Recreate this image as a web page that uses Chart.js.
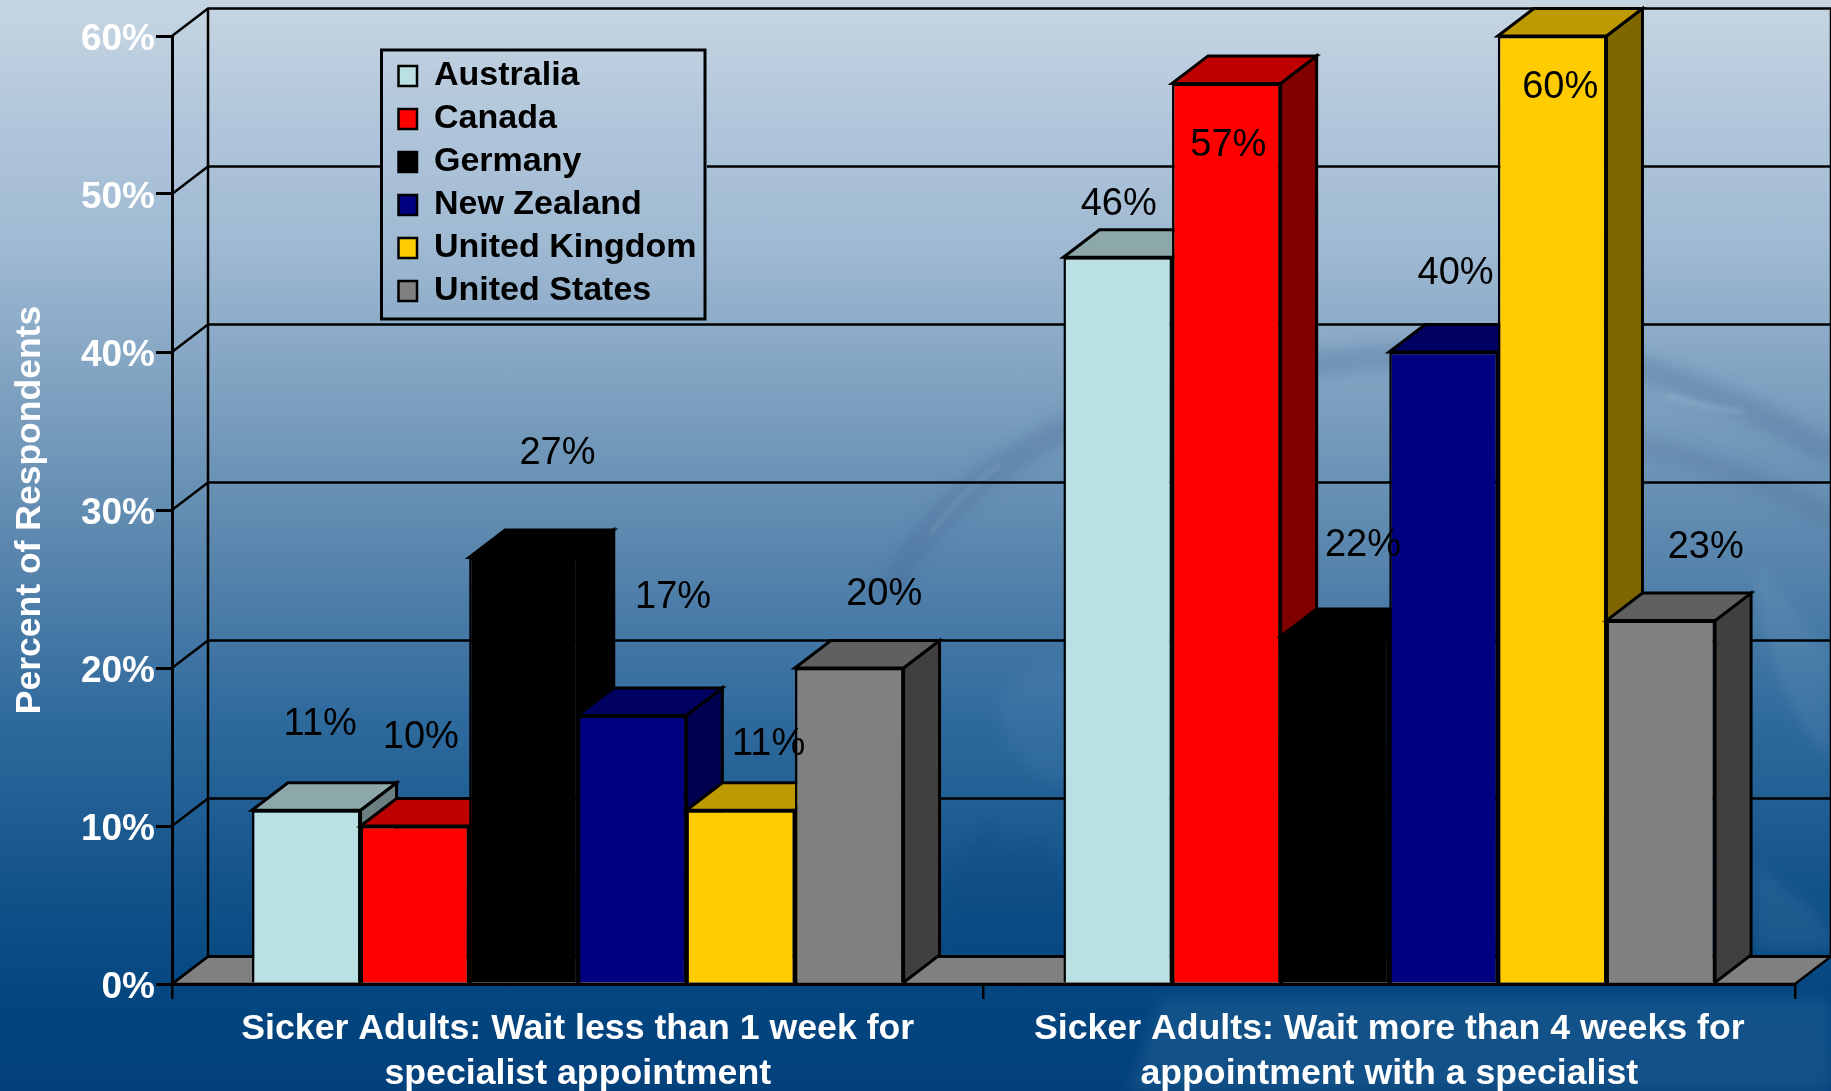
<!DOCTYPE html>
<html>
<head>
<meta charset="utf-8">
<title>Sicker adults: specialist waits</title>
<script src="https://cdn.jsdelivr.net/npm/chart.js@4"></script>
<style>
html,body{margin:0;padding:0;width:1831px;height:1091px;overflow:hidden;background:#04427d}
#bg{position:absolute;left:0;top:0}
canvas#c{position:absolute;left:0;top:0}
</style>
</head>
<body>
<svg id="bg" width="1831" height="1091" xmlns="http://www.w3.org/2000/svg">
<defs>
<linearGradient id="g" x1="0" y1="0" x2="0" y2="1">
<stop offset="0" stop-color="#c6d5e2"/>
<stop offset=".12" stop-color="#b0c5da"/>
<stop offset=".22" stop-color="#a0bad3"/>
<stop offset=".36" stop-color="#7ea1c0"/>
<stop offset=".5" stop-color="#5b87ae"/>
<stop offset=".66" stop-color="#2f6a9d"/>
<stop offset=".82" stop-color="#115289"/>
<stop offset=".92" stop-color="#03457f"/>
<stop offset="1" stop-color="#03417b"/>
</linearGradient>
<filter id="b"><feGaussianBlur stdDeviation="7"/></filter>
<filter id="s"><feGaussianBlur stdDeviation="2.5"/></filter>
</defs>
<rect width="1831" height="1091" fill="url(#g)"/>
<g filter="url(#b)" fill="none">
<path d="M885 600 C930 500 1030 440 1110 410 C1300 345 1560 340 1660 375 C1730 400 1790 425 1831 455" stroke="#46658e" stroke-opacity=".28" stroke-width="26"/>
<path d="M1640 445 C1720 465 1790 490 1831 520" stroke="#46658e" stroke-opacity=".2" stroke-width="22"/>
<path d="M1000 700 C1030 660 1060 665 1075 670 L1075 780 C1040 790 1000 760 1000 700Z" fill="#9cc0d8" fill-opacity=".08"/>
<path d="M945 870 L990 825 L1010 855 L1040 840 L1075 885 L1075 960 L940 960Z" fill="#003a74" fill-opacity=".18"/>
<path d="M1755 560 C1790 600 1810 640 1831 650 L1831 760 C1790 720 1760 650 1755 560Z" fill="#9cc0d8" fill-opacity=".12"/>
<path d="M1755 860 C1780 890 1810 900 1831 930 L1831 950 L1755 950Z" fill="#9cc0d8" fill-opacity=".10"/>
<path d="M1160 1000 L1831 1000 L1831 1091 L1130 1091Z" fill="#5f9cc4" fill-opacity=".16"/>
</g>
<g filter="url(#s)" fill="none" stroke="#cfe2ee" stroke-opacity=".2">
<path d="M930 535 C960 490 1000 465 1000 465" stroke-width="3"/>
<path d="M1665 395 C1700 405 1720 410 1745 412" stroke-width="5"/>
</g>
</svg>
<canvas id="c" width="1831" height="1091"></canvas>
<script>
const categories = [
  ["Sicker Adults: Wait less than 1 week for", "specialist appointment"],
  ["Sicker Adults: Wait more than 4 weeks for", "appointment with a specialist"]
];
const seriesNames = ["Australia", "Canada", "Germany", "New Zealand", "United Kingdom", "United States"];
const australia = [11, 46];
const canada = [10, 57];
const germany = [27, 22];
const newZealand = [17, 40];
const unitedKingdom = [11, 60];
const unitedStates = [20, 23];
const yTicks = [0, 10, 20, 30, 40, 50, 60];
const yAxisTitle = "Percent of Respondents";

const seriesValues = [australia, canada, germany, newZealand, unitedKingdom, unitedStates];
const frontColors = ["#BAE0E3", "#FF0000", "#000000", "#000080", "#FFCC00", "#808080"];
const topColors   = ["#8CA8AA", "#BF0000", "#000000", "#000060", "#BF9900", "#606060"];
const sideColors  = ["#6C7F80", "#800000", "#000000", "#000050", "#806600", "#404040"];

// Hand placement of the value labels, relative to each bar's top-centre (px): [series][category]
const labelShiftX = [[14, 1], [6, 2], [34, 28], [41, 12], [28, 8], [35, 45]];
const labelShiftY = [[-86, -53], [-88, 62], [-104, -91], [-118, -78], [-66, 52], [-73, -73]];

const DEPTH_X = 36, DEPTH_Y = 27.5;
const LEGEND_BOX = {left: 381.5, top: 50, right: 705, bottom: 319};
const FONT = "'Liberation Sans', Arial, sans-serif";

function poly(ctx, pts, fill) {
  ctx.beginPath();
  pts.forEach((p, i) => i ? ctx.lineTo(p[0], p[1]) : ctx.moveTo(p[0], p[1]));
  ctx.closePath();
  if (fill) { ctx.fillStyle = fill; ctx.fill(); }
  ctx.stroke();
}

let painting = false;
const threeD = {
  id: 'threeD',
  afterLayout(chart) {
    // Park the library's legend inside the chart area, as in the reference.
    const l = chart.legend;
    l.left = 389.5; l.top = 50; l.right = l.left + 320; l.bottom = l.top + 268;
    l.width = 320; l.height = 268;
    l.adjustHitBoxes();
  },
  beforeDatasetsDraw(chart) {
    const ctx = chart.ctx, {x, y} = chart.scales;
    const L = x.left, R = x.right, base = y.bottom;
    ctx.save();
    ctx.strokeStyle = '#000'; ctx.lineWidth = 2.5; ctx.lineJoin = 'miter';
    // floor
    poly(ctx, [[L, base], [L + DEPTH_X, base - DEPTH_Y], [R + DEPTH_X, base - DEPTH_Y], [R, base]], '#808080');
    // back wall: grid lines, with a hole where the legend sits
    ctx.save();
    ctx.beginPath();
    ctx.rect(0, 0, chart.width, chart.height);
    ctx.rect(LEGEND_BOX.left, LEGEND_BOX.top, LEGEND_BOX.right - LEGEND_BOX.left + 2, LEGEND_BOX.bottom - LEGEND_BOX.top);
    ctx.clip('evenodd');
    yTicks.forEach(v => {
      const py = y.getPixelForValue(v);
      ctx.beginPath();
      ctx.moveTo(L, py);
      ctx.lineTo(L + DEPTH_X, py - DEPTH_Y);
      ctx.lineTo(R + DEPTH_X, py - DEPTH_Y);
      ctx.stroke();
    });
    ctx.restore();
    [L + DEPTH_X, R + DEPTH_X].forEach(px => {
      ctx.beginPath();
      ctx.moveTo(px, y.getPixelForValue(60) - DEPTH_Y);
      ctx.lineTo(px, base - DEPTH_Y);
      ctx.stroke();
    });
    // legend frame
    ctx.lineWidth = 3;
    ctx.strokeRect(LEGEND_BOX.left, LEGEND_BOX.top, LEGEND_BOX.right - LEGEND_BOX.left, LEGEND_BOX.bottom - LEGEND_BOX.top);
    ctx.restore();
  },
  beforeDatasetDraw() { return painting; },
  afterDatasetsDraw(chart) {
    const ctx = chart.ctx;
    painting = true;
    // left-to-right painter's order, so each bar covers its neighbour's side face
    seriesValues.forEach((_, i) => {
      const meta = chart.getDatasetMeta(i);
      ctx.save();
      ctx.strokeStyle = '#000'; ctx.lineWidth = 3; ctx.lineJoin = 'miter';
      meta.data.forEach(el => {
        const l = el.x - el.width / 2, r = el.x + el.width / 2, t = el.y, b = el.base;
        poly(ctx, [[r, t], [r + DEPTH_X, t - DEPTH_Y], [r + DEPTH_X, b - DEPTH_Y], [r, b]], sideColors[i]);
        poly(ctx, [[l, t], [l + DEPTH_X, t - DEPTH_Y], [r + DEPTH_X, t - DEPTH_Y], [r, t]], topColors[i]);
      });
      ctx.restore();
      meta.controller.draw();
    });
    painting = false;
    // value labels
    ctx.save();
    ctx.font = "38px " + FONT;
    ctx.fillStyle = '#000';
    ctx.textAlign = 'center';
    ctx.textBaseline = 'middle';
    seriesValues.forEach((vals, i) => {
      chart.getDatasetMeta(i).data.forEach((el, j) => {
        ctx.fillText(vals[j] + '%', el.x + labelShiftX[i][j], el.y + labelShiftY[i][j]);
      });
    });
    ctx.restore();
  }
};

new Chart(document.getElementById('c'), {
  type: 'bar',
  plugins: [threeD],
  data: {
    labels: categories,
    datasets: seriesNames.map((name, i) => ({
      label: name,
      data: seriesValues[i],
      backgroundColor: frontColors[i],
      borderColor: '#000',
      borderWidth: 2.5,
      categoryPercentage: 0.803,
      barPercentage: 1
    }))
  },
  options: {
    responsive: false,
    animation: false,
    layout: {autoPadding: false, padding: {left: 0, top: 36, right: 36, bottom: 0}},
    plugins: {
      tooltip: {enabled: false},
      legend: {
        position: 'chartArea',
        align: 'start',
        labels: {
          boxWidth: 18.5, boxHeight: 20, padding: 9,
          color: '#000',
          font: {family: FONT, size: 34, weight: 'bold'}
        }
      }
    },
    scales: {
      x: {
        afterFit(s) { s.height = 107; },
        grid: {drawOnChartArea: false, color: '#000', lineWidth: 2.5, tickLength: 15},
        border: {display: true, color: '#000', width: 3},
        ticks: {
          color: '#fff', maxRotation: 0, autoSkip: false, padding: 7,
          font: {family: FONT, size: 35.7, weight: 'bold', lineHeight: 1.27}
        }
      },
      y: {
        min: 0, max: 60,
        afterFit(s) { s.width = 172; },
        grid: {drawOnChartArea: false, color: '#000', lineWidth: 3, tickLength: 16},
        border: {display: true, color: '#000', width: 3},
        afterBuildTicks(s) { s.ticks = yTicks.map(v => ({value: v})); },
        ticks: {
          color: '#fff', padding: 1, labelOffset: 4,
          font: {family: FONT, size: 37, weight: 'bold'},
          callback: v => v + '%'
        },
        title: {
          display: true, text: yAxisTitle, color: '#fff',
          font: {family: FONT, size: 35.5, weight: 'bold'},
          padding: {top: 9, bottom: 0}
        }
      }
    }
  }
});
</script>
</body>
</html>
